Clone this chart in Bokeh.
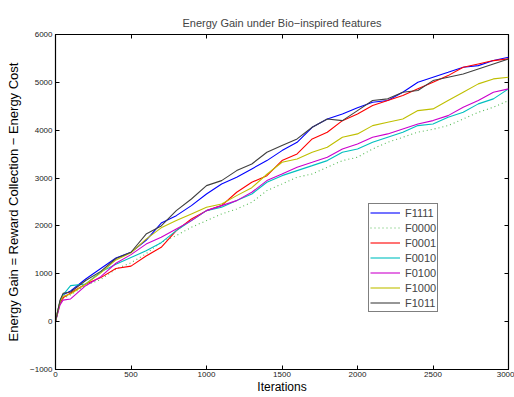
from bokeh.plotting import figure
from bokeh.models import LinearAxis, FixedTicker, Legend, LegendItem, Range1d
from bokeh.embed import file_html
from bokeh.resources import INLINE

iterations = [0, 10, 30, 50, 100, 200, 300, 400, 500, 600, 700, 800, 900, 1000,
              1100, 1200, 1300, 1400, 1500, 1600, 1700, 1800, 1900, 2000,
              2100, 2200, 2300, 2400, 2500, 2600, 2700, 2800, 2900, 3000]

F1111 = [0, 150, 420, 560, 640, 890, 1110, 1330, 1450, 1700, 2060, 2215, 2424, 2668,
         2877, 3017, 3191, 3365, 3574, 3748, 4061, 4235, 4340, 4470,
         4585, 4620, 4794, 5002, 5107, 5210, 5316, 5350, 5455, 5524]
F0000 = [0, 130, 380, 480, 560, 760, 880, 1100, 1230, 1420, 1658, 1798, 1972, 2111,
         2250, 2355, 2494, 2738, 2877, 3017, 3086, 3226, 3365, 3435,
         3609, 3748, 3853, 3960, 4020, 4096, 4235, 4375, 4480, 4620]
F0001 = [0, 130, 380, 500, 600, 787, 920, 1110, 1160, 1370, 1553, 1902, 2146, 2320,
         2424, 2703, 2912, 3051, 3365, 3504, 3818, 3958, 4200, 4340,
         4515, 4620, 4724, 4864, 5002, 5141, 5316, 5385, 5455, 5490]
F0010 = [0, 140, 420, 560, 752, 787, 1040, 1200, 1340, 1480, 1650, 1902, 2111, 2320,
         2389, 2529, 2668, 2912, 3051, 3156, 3260, 3365, 3539, 3609,
         3748, 3853, 3958, 4096, 4131, 4270, 4375, 4550, 4655, 4864]
F0100 = [0, 120, 350, 450, 474, 752, 940, 1220, 1400, 1620, 1763, 1937, 2111, 2320,
         2424, 2529, 2703, 2947, 3086, 3226, 3330, 3435, 3609, 3714,
         3853, 3923, 4027, 4131, 4201, 4305, 4480, 4620, 4794, 4864]
F1000 = [0, 160, 420, 530, 578, 787, 1020, 1290, 1440, 1725, 1960, 2111, 2250, 2389,
         2459, 2633, 2800, 3080, 3330, 3400, 3539, 3644, 3853, 3923,
         4096, 4166, 4235, 4410, 4445, 4620, 4794, 4968, 5072, 5107]
F1011 = [0, 150, 450, 590, 620, 860, 1050, 1320, 1450, 1830, 2000, 2320, 2563, 2842,
         2947, 3156, 3295, 3539, 3679, 3818, 4061, 4235, 4200, 4410,
         4620, 4655, 4794, 4829, 5037, 5107, 5176, 5280, 5385, 5490]

series_names = ["F1111", "F0000", "F0001", "F0010", "F0100", "F1000", "F1011"]
series_values = [F1111, F0000, F0001, F0010, F0100, F1000, F1011]
series_colors = ["#0000ff", "#55bb55", "#ff0000", "#00bfbf", "#cc00cc", "#bfbf00", "#404040"]
series_dash = ["solid", "1 3", "solid", "solid", "solid", "solid", "solid"]

x_ticks = [0, 500, 1000, 1500, 2000, 2500, 3000]
y_ticks = [-1000, 0, 1000, 2000, 3000, 4000, 5000, 6000]

FONT = "Liberation Sans"

p = figure(width=514, height=397, output_backend="svg", toolbar_location=None,
           x_range=Range1d(0, 3000), y_range=Range1d(-1000, 6000),
           title="Energy Gain under Bio\u2212inspired features",
           min_border_left=55, min_border_right=6, min_border_top=34, min_border_bottom=28)
p.title.align = "center"
p.title.text_font = FONT
p.title.text_font_size = "11px"
p.title.text_font_style = "normal"
p.title.standoff = 12
p.grid.visible = False
p.outline_line_color = "black"
p.outline_line_width = 1.2
p.background_fill_color = "white"
p.border_fill_color = "white"

for ax in (p.xaxis[0], p.yaxis[0]):
    ax.major_tick_in = 4
    ax.major_tick_out = 0
    ax.minor_tick_line_color = None
    ax.axis_line_color = "black"
    ax.major_tick_line_color = "black"
    ax.major_label_text_font = FONT
    ax.major_label_text_font_size = "8px"
    ax.major_label_text_color = "#222222"
    ax.axis_label_text_font = FONT
    ax.axis_label_text_font_style = "normal"
    ax.axis_label_text_color = "black"

p.xaxis[0].ticker = FixedTicker(ticks=x_ticks)
p.yaxis[0].ticker = FixedTicker(ticks=y_ticks)
p.yaxis[0].major_label_overrides = {-1000: "\u22121000"}
p.xaxis[0].axis_label = "Iterations"
p.xaxis[0].axis_label_text_font_size = "12px"
p.xaxis[0].major_label_standoff = 2
p.xaxis[0].axis_label_standoff = 0
p.yaxis[0].axis_label = "Energy Gain = Reward Collection \u2212 Energy Cost"
p.yaxis[0].axis_label_text_font_size = "13px"
p.yaxis[0].major_label_standoff = 3
p.yaxis[0].axis_label_standoff = 6

top_ax = LinearAxis(ticker=FixedTicker(ticks=x_ticks), major_tick_in=4, major_tick_out=0,
                    minor_tick_line_color=None, axis_line_color=None,
                    major_label_overrides={t: "" for t in x_ticks}, major_label_standoff=0)
right_ax = LinearAxis(ticker=FixedTicker(ticks=y_ticks), major_tick_in=4, major_tick_out=0,
                      minor_tick_line_color=None, axis_line_color=None,
                      major_label_overrides={t: "" for t in y_ticks}, major_label_standoff=0)
p.add_layout(top_ax, "above")
p.add_layout(right_ax, "right")

items = []
for name, vals, col, dash in zip(series_names, series_values, series_colors, series_dash):
    r = p.line(iterations, vals, line_color=col, line_width=1.1, line_dash=dash)
    items.append(LegendItem(label=name, renderers=[r]))

legend = Legend(items=items, location=(313, 57), glyph_width=30, glyph_height=15,
                label_height=15, label_text_font=FONT, label_text_font_size="11px",
                label_standoff=5, spacing=0, padding=1, margin=0,
                border_line_color="black", border_line_width=1.5,
                background_fill_color="white", background_fill_alpha=1)
p.add_layout(legend, "center")

open("out.html", "w").write(file_html(p, INLINE))
